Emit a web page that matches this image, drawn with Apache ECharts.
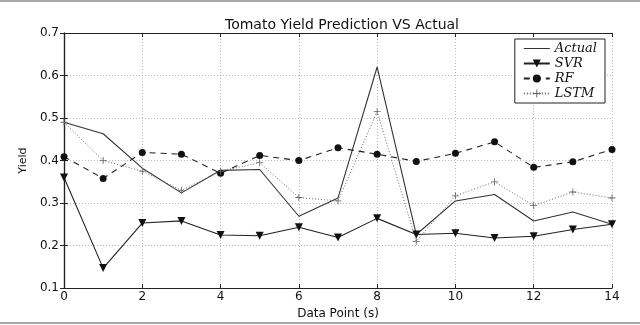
<!doctype html>
<html lang="en">
<head>
    <meta charset="UTF-8">
    <title>Tomato Yield Prediction VS Actual</title>
    <style>
        html, body {
            margin: 0;
            padding: 0;
            background: #fff;
            overflow: hidden;
        }
        #main {
            position: absolute;
            left: 0;
            top: 0;
            width: 640px;
            height: 325px;
        }
        .edge {
            position: absolute;
            left: 0;
            width: 640px;
            height: 2px;
            background: #a8a8a8;
            z-index: 5;
        }
    </style>
    <script src="https://cdn.jsdelivr.net/npm/echarts@6/dist/echarts.min.js"></script>
</head>
<body>
<div id="main"></div>
<div class="edge" style="top:0"></div>
<div class="edge" style="top:322px"></div>
<script type="text/javascript">
    // data points (s)
    var points = [0, 1, 2, 3, 4, 5, 6, 7, 8, 9, 10, 11, 12, 13, 14];
    var actual = [0.490, 0.463, 0.382, 0.324, 0.377, 0.379, 0.269, 0.312, 0.620, 0.226, 0.305, 0.320, 0.258, 0.279, 0.250];
    var svr    = [0.360, 0.147, 0.253, 0.258, 0.225, 0.223, 0.243, 0.219, 0.264, 0.226, 0.229, 0.218, 0.222, 0.238, 0.250];
    var rf     = [0.409, 0.358, 0.419, 0.415, 0.370, 0.412, 0.400, 0.430, 0.415, 0.398, 0.417, 0.444, 0.384, 0.397, 0.426];
    var lstm   = [0.490, 0.400, 0.375, 0.330, 0.375, 0.395, 0.313, 0.305, 0.515, 0.210, 0.317, 0.350, 0.294, 0.326, 0.312];
    var yTicks = [0.1, 0.2, 0.3, 0.4, 0.5, 0.6, 0.7];

    function pairs(ys) {
        var out = [];
        for (var i = 0; i < points.length; i++) {
            out.push([points[i], ys[i]]);
        }
        return out;
    }

    var plus = 'path://M4.4,0H5.6V4.4H10V5.6H5.6V10H4.4V5.6H0V4.4H4.4Z';
    var font = 'DejaVu Sans';

    var myChart = echarts.init(document.getElementById('main'), null, {width: 640, height: 325});
    var option = {
        animation: false,
        backgroundColor: '#fff',
        title: {
            text: 'Tomato Yield Prediction VS Actual',
            left: 337,
            top: 13,
            textAlign: 'center',
            textStyle: {fontFamily: font, fontSize: 14, fontWeight: 'normal', color: '#111'}
        },
        legend: {
            right: 35,
            top: 39,
            orient: 'vertical',
            backgroundColor: '#fff',
            borderColor: '#222',
            borderWidth: 1,
            borderRadius: 0,
            padding: [3, 8, 3, 8],
            itemGap: 2,
            itemWidth: 26,
            itemHeight: 10,
            textStyle: {fontFamily: 'DejaVu Serif', fontStyle: 'italic', fontSize: 13, color: '#111'},
            data: [
                {name: 'Actual', icon: 'path://M0,0H26V1H0Z'},
                'SVR', 'RF', 'LSTM'
            ]
        },
        grid: {left: 64, right: 28, top: 33, bottom: 34},
        xAxis: [{
            type: 'value',
            min: 0,
            max: 14,
            interval: 2,
            name: 'Data Point (s)',
            nameLocation: 'middle',
            nameGap: 16,
            nameTextStyle: {fontFamily: font, fontSize: 12, color: '#111'},
            axisLine: {lineStyle: {color: '#222', width: 1.2}},
            axisTick: {inside: true, length: 4, lineStyle: {color: '#222'}},
            axisLabel: {fontFamily: font, fontSize: 12, color: '#111', margin: 3},
            splitLine: {show: true, lineStyle: {color: '#bbb', type: [1, 2]}}
        }, {
            type: 'value',
            position: 'top',
            min: 0,
            max: 14,
            interval: 2,
            axisLine: {lineStyle: {color: '#222', width: 1.2}},
            axisTick: {inside: true, length: 4, lineStyle: {color: '#222'}},
            axisLabel: {show: false},
            splitLine: {show: false}
        }],
        yAxis: [{
            type: 'value',
            min: 0.1,
            max: 0.7,
            interval: 0.1,
            name: 'Yield',
            nameLocation: 'middle',
            nameGap: 31,
            nameTextStyle: {fontFamily: font, fontSize: 11, color: '#111'},
            axisLine: {show: true, lineStyle: {color: '#222', width: 1.2}},
            axisTick: {show: true, inside: true, length: 4, lineStyle: {color: '#222'}},
            axisLabel: {
                fontFamily: font, fontSize: 12, color: '#111', margin: 5,
                formatter: function (v) { return v.toFixed(1); }
            },
            splitLine: {show: true, lineStyle: {color: '#bbb', type: [1, 2]}}
        }, {
            type: 'value',
            position: 'right',
            min: 0.1,
            max: 0.7,
            interval: 0.1,
            axisLine: {show: true, lineStyle: {color: '#222', width: 1.2}},
            axisTick: {show: true, inside: true, length: 4, lineStyle: {color: '#222'}},
            axisLabel: {show: false},
            splitLine: {show: false}
        }],
        series: [{
            name: 'Actual',
            type: 'line',
            data: pairs(actual),
            symbol: 'none',
            lineStyle: {color: '#333', width: 1.1},
            itemStyle: {color: '#333'}
        }, {
            name: 'SVR',
            type: 'line',
            data: pairs(svr),
            symbol: 'triangle',
            symbolRotate: 180,
            symbolSize: 8,
            lineStyle: {color: '#222', width: 1.1},
            itemStyle: {color: '#111'}
        }, {
            name: 'RF',
            type: 'line',
            data: pairs(rf),
            symbol: 'circle',
            symbolSize: 7,
            lineStyle: {color: '#222', width: 1.1, type: [6, 5]},
            itemStyle: {color: '#111'}
        }, {
            name: 'LSTM',
            type: 'line',
            data: pairs(lstm),
            symbol: plus,
            symbolSize: 7,
            lineStyle: {color: '#666', width: 1, type: [1, 2]},
            itemStyle: {color: '#666'}
        }]
    };
    myChart.setOption(option);
</script>
</body>
</html>
